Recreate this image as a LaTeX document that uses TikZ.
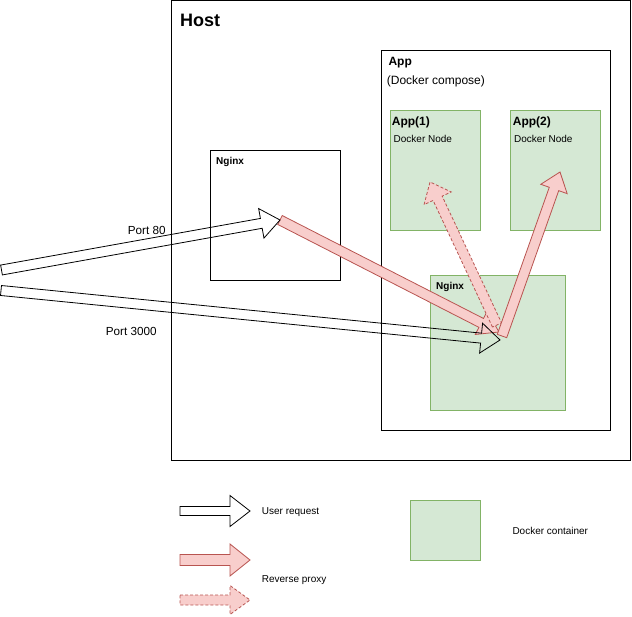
\documentclass[tikz,border=0pt]{standalone}
\usepackage{fontspec}
\setmainfont{Liberation Sans}
\usetikzlibrary{calc}
\definecolor{gfill}{HTML}{D5E8D4}
\definecolor{gline}{HTML}{82B366}
\definecolor{pfill}{HTML}{F8CECC}
\definecolor{pline}{HTML}{B85450}
\tikzset{
  box/.style={draw=black, line width=1pt},
  gbox/.style={draw=gline, fill=gfill, line width=1pt},
  lbl/.style={anchor=base west, inner sep=0pt, font=#1},
  userarrow/.style={draw=black, line width=0.8pt, line join=miter},
  proxyarrow/.style={draw=pline, fill=pfill, line width=0.8pt, line join=miter},
  proxydash/.style={draw=pline, fill=pfill, line width=0.8pt, dash pattern=on 3pt off 2pt},
}
\newcommand\blockarrow[6]{%
  \coordinate (bh) at ($(#3)!#6!(#2)$);
  \draw[#1] ($(#2)!#4!90:(#3)$) -- ($(bh)!#4!90:(#3)$) -- ($(bh)!#5!90:(#3)$) -- (#3)
    -- ($(bh)!#5!-90:(#3)$) -- ($(bh)!#4!-90:(#3)$) -- ($(#2)!#4!-90:(#3)$) -- cycle;}
\begin{document}
\begin{tikzpicture}[x=1pt,y=-1pt]
\useasboundingbox (0,0) rectangle (632,616);
% containers
\draw[box] (171,0.5) rectangle (630.5,460) coordinate (hostbr);
\node[lbl={\fontsize{18}{20}\selectfont\bfseries}] (host) at (180,26.5) {Host};
\draw[box] (381,50.5) rectangle (610.5,430);
\node[lbl={\fontsize{12}{14}\selectfont\bfseries}] (app) at (388.3,65.7) {App};
\node[lbl={\fontsize{12}{14}\selectfont}] (compose) at (386.7,84.5) {(Docker compose)};
\draw[gbox] (390.5,110.5) rectangle (480.5,230.5);
\node[lbl={\fontsize{12}{14}\selectfont\bfseries}] (app1) at (391.7,125.7) {App(1)};
\node[lbl={\fontsize{10}{12}\selectfont}] (dn1) at (393.5,142.7) {Docker Node};
\draw[gbox] (510.5,110.5) rectangle (600.5,230.5);
\node[lbl={\fontsize{12}{14}\selectfont\bfseries}] (app2) at (512.7,125.7) {App(2)};
\node[lbl={\fontsize{10}{12}\selectfont}] (dn2) at (514,142.7) {Docker Node};
\draw[gbox] (430.5,275.5) rectangle (565.5,410);
\node[lbl={\fontsize{10}{12}\selectfont\bfseries}] (nginx2) at (436,289) {Nginx};
\draw[box] (210.5,150.5) rectangle (340.5,280);
\node[lbl={\fontsize{10}{12}\selectfont\bfseries}] (nginx1) at (216,164) {Nginx};
% arrow end points
\coordinate (p80t) at (1.5,270);
\coordinate (p80h) at (280,220);
\coordinate (p3kt) at (1,290.5);
\coordinate (p3kh) at (500,340);
\coordinate (r1t) at (280,220);
\coordinate (r1h) at (499,332);
\coordinate (r2t) at (502,336);
\coordinate (r2h) at (560,172);
\coordinate (dt) at (497,325);
\coordinate (dh) at (430,182);
% proxy arrows
\blockarrow{proxyarrow}{r1t}{r1h}{5pt}{13pt}{20pt}
\blockarrow{proxydash}{dt}{dh}{5pt}{15pt}{18pt}
\blockarrow{proxyarrow}{r2t}{r2h}{5pt}{14pt}{18pt}
% user request arrows
\blockarrow{userarrow}{p80t}{p80h}{5pt}{15pt}{19pt}
\blockarrow{userarrow}{p3kt}{p3kh}{5pt}{15pt}{19pt}
\node[lbl={\fontsize{11.7}{14}\selectfont}] (port80) at (127.7,234) {Port 80};
\node[lbl={\fontsize{11.7}{14}\selectfont}] (port3k) at (105.7,335) {Port 3000};
% legend
\coordinate (lut) at (180,511);
\coordinate (luh) at (250,511);
\coordinate (lrt) at (180,560);
\coordinate (lrh) at (250,560);
\coordinate (ldt) at (180,600);
\coordinate (ldh) at (250,600);
\blockarrow{userarrow}{lut}{luh}{4.5pt}{15.5pt}{20pt}
\blockarrow{proxyarrow}{lrt}{lrh}{5.5pt}{16pt}{20pt}
\blockarrow{proxydash}{ldt}{ldh}{5pt}{14.5pt}{20pt}
\node[lbl={\fontsize{10}{12}\selectfont}] (lu) at (261.7,514) {User request};
\node[lbl={\fontsize{10}{12}\selectfont}] (lr) at (261.7,582.7) {Reverse proxy};
\draw[gbox] (410.5,500.5) rectangle (480.5,560.5);
\node[lbl={\fontsize{10}{12}\selectfont}] (ldc) at (512.3,534) {Docker container};
\end{tikzpicture}
\end{document}
